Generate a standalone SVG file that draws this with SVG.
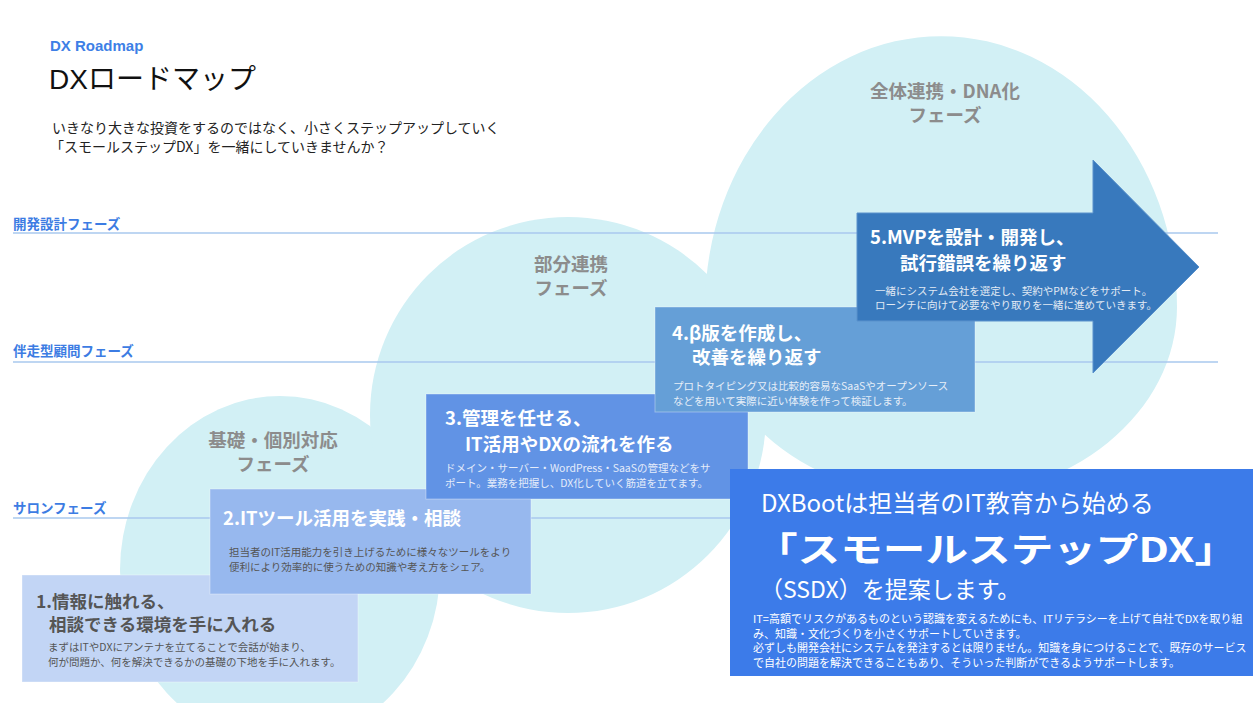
<svg xmlns="http://www.w3.org/2000/svg" width="1253" height="703" viewBox="0 0 1253 703">
<style>
  .jp { font-family: "Noto Sans CJK JP", "Noto Sans", sans-serif; }
  .lat { font-family: "Liberation Sans", "Noto Sans CJK JP", sans-serif; }
  .blob { fill: #d2f0f5; }
  .plabel { font-family: "Noto Sans CJK JP", sans-serif; font-weight: 700; font-size: 18.5px; fill: #8c8c8c; text-anchor: middle; }
  .side { font-family: "Noto Sans CJK JP", sans-serif; font-weight: 700; font-size: 13.5px; fill: #3c7ce3; }
  .guide { stroke: #a8c9ee; stroke-width: 1.5; fill: none; }
  .ttl { font-family: "Noto Sans CJK JP", sans-serif; font-weight: 700; font-size: 18.5px; fill: #ffffff; }
  .ttl1 { font-family: "Noto Sans CJK JP", sans-serif; font-weight: 700; font-size: 17.5px; fill: #555555; }
  .desc { font-family: "Noto Sans CJK JP", sans-serif; font-size: 10.5px; }
  .desc11 { font-family: "Noto Sans CJK JP", sans-serif; font-size: 11px; fill: #ffffff; }
  .box { stroke: rgba(255,255,255,0.35); stroke-width: 1; }
</style>

<!-- phase blobs -->
<g id="phase-kiso">
  <ellipse class="blob" cx="280" cy="570" rx="160" ry="174"/>
  <text class="plabel"><tspan x="273" y="447">基礎・個別対応</tspan><tspan x="273" y="471">フェーズ</tspan></text>
</g>
<g id="phase-bubun">
  <circle class="blob" cx="568" cy="415" r="198"/>
  <text class="plabel"><tspan x="571" y="271">部分連携</tspan><tspan x="571" y="295">フェーズ</tspan></text>
</g>
<g id="phase-zentai">
  <path class="blob" d="M705 307 A236 271 0 0 1 1177 307 A236 192 0 0 1 705 307 Z"/>
  <text class="plabel"><tspan x="945" y="98">全体連携・DNA化</tspan><tspan x="945" y="122">フェーズ</tspan></text>
</g>

<!-- phase guide lines -->
<g id="phase-lines">
  <line class="guide" x1="13" y1="233" x2="1218" y2="233"/>
  <line class="guide" x1="13" y1="362" x2="1218" y2="362"/>
  <line class="guide" x1="13" y1="518" x2="1218" y2="518"/>
  <text class="side" x="13" y="229">開発設計フェーズ</text>
  <text class="side" x="13" y="356">伴走型顧問フェーズ</text>
  <text class="side" x="13" y="513">サロンフェーズ</text>
</g>

<!-- header -->
<g id="header">
  <text class="lat" x="50" y="51" font-size="15" font-weight="700" fill="#3d7fe6">DX Roadmap</text>
  <text class="lat" x="49" y="89" font-size="28" fill="#111111">DXロードマップ</text>
  <text class="jp" x="52" y="133" font-size="14" fill="#222222">いきなり大きな投資をするのではなく、小さくステップアップしていく</text>
  <text class="jp" x="50" y="152" font-size="14" fill="#222222">「スモールステップDX」を一緒にしていきませんか？</text>
</g>

<!-- step 1 -->
<g id="step1">
  <rect class="box" x="22" y="575" width="336" height="107" fill="#c2d5f5"/>
  <text class="ttl1"><tspan x="36" y="608">1.情報に触れる、</tspan><tspan x="49" y="631">相談できる環境を手に入れる</tspan></text>
  <text class="desc" fill="#555555"><tspan x="48" y="651">まずはITやDXにアンテナを立てることで会話が始まり、</tspan><tspan x="48" y="666">何が問題か、何を解決できるかの基礎の下地を手に入れます。</tspan></text>
</g>

<!-- step 2 -->
<g id="step2">
  <rect class="box" x="210" y="489" width="321" height="105" fill="#97b8ee"/>
  <text class="ttl" x="223" y="525">2.ITツール活用を実践・相談</text>
  <text class="desc" fill="#555555"><tspan x="229" y="556">担当者のIT活用能力を引き上げるために様々なツールをより</tspan><tspan x="229" y="571">便利により効率的に使うための知識や考え方をシェア。</tspan></text>
</g>

<!-- step 3 -->
<g id="step3">
  <rect class="box" x="426" y="394" width="322" height="105" fill="#6193e5"/>
  <text class="ttl"><tspan x="445" y="425">3.管理を任せる、</tspan><tspan x="465" y="451">IT活用やDXの流れを作る</tspan></text>
  <text class="desc" fill="#e4ecfa"><tspan x="445" y="472">ドメイン・サーバー・WordPress・SaaSの管理などをサ</tspan><tspan x="445" y="487">ポート。業務を把握し、DX化していく筋道を立てます。</tspan></text>
</g>

<!-- step 4 -->
<g id="step4">
  <rect class="box" x="655" y="307" width="320" height="105" fill="#659fd7"/>
  <text class="ttl"><tspan x="672" y="340">4.β版を作成し、</tspan><tspan x="692" y="364">改善を繰り返す</tspan></text>
  <text class="desc" fill="#e6eef8"><tspan x="673" y="390">プロトタイピング又は比較的容易なSaaSやオープンソース</tspan><tspan x="673" y="405">などを用いて実際に近い体験を作って検証します。</tspan></text>
</g>

<!-- step 5 arrow -->
<g id="step5">
  <polygon points="857,213 1093,213 1093,160 1199,267 1093,373 1093,321 857,321" fill="#3879bd" stroke="#5a92cc" stroke-width="1"/>
  <text class="ttl"><tspan x="870" y="244">5.MVPを設計・開発し、</tspan><tspan x="900" y="270">試行錯誤を繰り返す</tspan></text>
  <text class="desc" fill="#e2eaf4"><tspan x="875" y="295">一緒にシステム会社を選定し、契約やPMなどをサポート。</tspan><tspan x="875" y="309">ローンチに向けて必要なやり取りを一緒に進めていきます。</tspan></text>
</g>

<!-- SSDX message -->
<g id="ssdx">
  <rect x="730" y="469" width="523" height="207" fill="#3c7be9"/>
  <text class="jp" x="761" y="512" font-size="24" fill="#ffffff">DXBootは担当者のIT教育から始める</text>
  <text class="jp" x="755" y="562" font-size="34" font-weight="700" fill="#ffffff" textLength="482" lengthAdjust="spacingAndGlyphs">「スモールステップDX」</text>
  <text class="jp" x="760" y="598" font-size="23" fill="#ffffff">（SSDX）を提案します。</text>
  <text class="desc11"><tspan x="753" y="623">IT=高額でリスクがあるものという認識を変えるためにも、ITリテラシーを上げて自社でDXを取り組</tspan><tspan x="753" y="638">み、知識・文化づくりを小さくサポートしていきます。</tspan><tspan x="753" y="652">必ずしも開発会社にシステムを発注するとは限りません。知識を身につけることで、既存のサービス</tspan><tspan x="753" y="667">で自社の問題を解決できることもあり、そういった判断ができるようサポートします。</tspan></text>
</g>
</svg>
